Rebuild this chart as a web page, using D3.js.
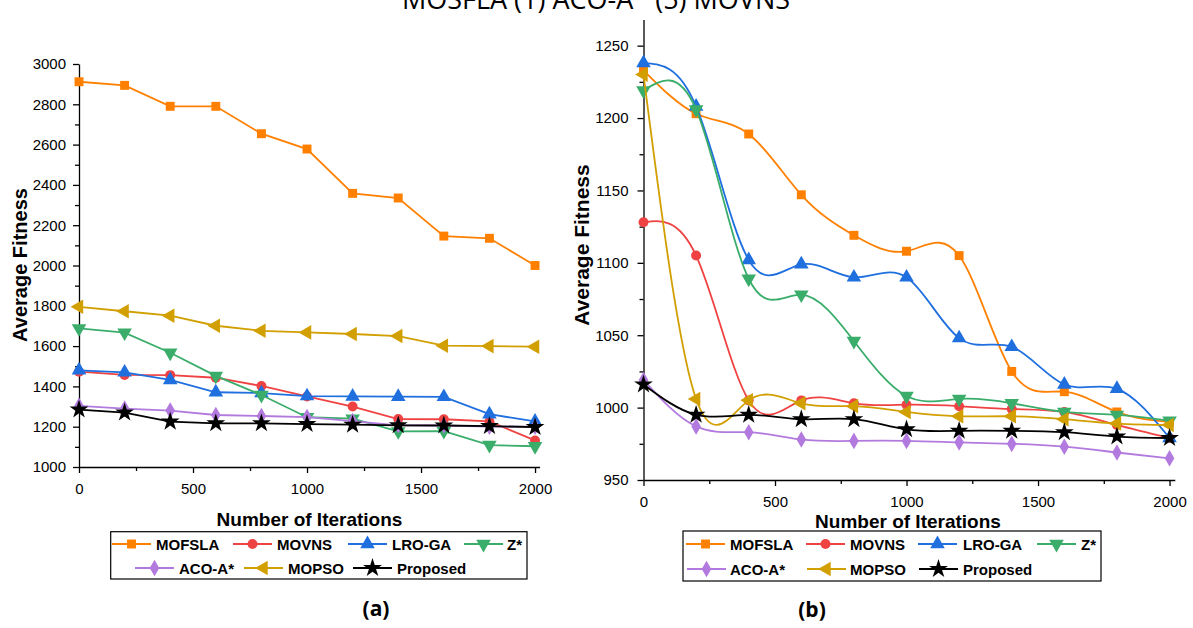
<!DOCTYPE html>
<html>
<head>
<meta charset="utf-8">
<script src="https://cdn.jsdelivr.net/npm/d3@7"></script>
<style>
  body { margin: 0; background: #fff; }
  svg { display: block; font-family: "Liberation Sans", Arial, sans-serif; }
  .axis path, .axis line { stroke: #000; stroke-width: 1.3; }
  .axis text { font-size: 15px; fill: #000; }
  .title { font-weight: bold; fill: #000; }
  .leg text { font-size: 15px; font-weight: bold; }
</style>
</head>
<body>
<div id="chart"></div>
<script>
// iterations on the x axis
const iterations = [0, 200, 400, 600, 800, 1000, 1200, 1400, 1600, 1800, 2000];

const names = ["MOFSLA", "MOVNS", "LRO-GA", "Z*", "ACO-A*", "MOPSO", "Proposed"];
const colors = ["#ff8000", "#ef4343", "#1f6fdf", "#3aad6b", "#b27ade", "#d29f00", "#000000"];

// panel (a) values
const mofslaA   = [2912, 2894, 2790, 2790, 2654, 2578, 2358, 2335, 2146, 2135, 2000];
const movnsA    = [1473, 1457, 1456, 1443, 1402, 1350, 1300, 1238, 1237, 1226, 1132];
const lrogaA    = [1480, 1470, 1432, 1371, 1367, 1352, 1350, 1349, 1348, 1262, 1226];
const zstarA    = [1688, 1667, 1567, 1452, 1357, 1247, 1240, 1177, 1178, 1109, 1103];
const acoA      = [1303, 1290, 1280, 1258, 1253, 1248, 1228, 1207, 1206, 1200, 1200];
const mopsoA    = [1795, 1773, 1751, 1701, 1676, 1668, 1660, 1650, 1602, 1600, 1597];
const proposedA = [1285, 1270, 1225, 1217, 1217, 1213, 1210, 1207, 1206, 1203, 1198];

// panel (b) values
const mofslaB   = [1233, 1203, 1189, 1147, 1119, 1108, 1105, 1025, 1011, 997, 990];
const movnsB    = [1128, 1105, 1005, 1005, 1003, 1002, 1001, 999, 997, 988, 979];
const lrogaB    = [1238, 1208, 1102, 1099, 1090, 1090, 1048, 1042, 1016, 1013, 979];
const zstarB    = [1219, 1206, 1089, 1078, 1046, 1008, 1006, 1003, 997, 995, 991];
const acoB      = [1019, 987, 983, 978, 977, 977, 976, 975, 973, 969, 965];
const mopsoB    = [1230, 1006, 1005, 1003, 1001, 997, 994, 994, 992, 989, 988];
const proposedB = [1016, 995, 995, 992, 992, 985, 984, 984, 983, 980, 979];

const yTicksA = [1000, 1200, 1400, 1600, 1800, 2000, 2200, 2400, 2600, 2800, 3000];
const yTicksB = [950, 1000, 1050, 1100, 1150, 1200, 1250];
const xTicks = [0, 500, 1000, 1500, 2000];

const W = 1193, H = 628;
const svg = d3.select("#chart").append("svg").attr("width", W).attr("height", H);

// marker shapes: square, circle, up, down, diamond, left, star
const shapes = [
  {t: d3.symbolSquare, s: 80, r: 0},
  {t: d3.symbolCircle, s: 78, r: 0},
  {t: d3.symbolTriangle, s: 92, r: 0},
  {t: d3.symbolTriangle, s: 92, r: 180},
  {t: d3.symbolDiamond, s: 80, r: 0},
  {t: d3.symbolTriangle, s: 92, r: -90},
  {t: d3.symbolStar, s: 110, r: 0}
];

const fmt = d3.format("d");

function drawPanel(p) {
  let x = d3.scaleLinear().domain([0, 2020]).range(p.xr);
  let y = d3.scaleLinear().domain(p.yd).range(p.yr);
  let g = svg.append("g");

  // minor ticks
  g.append("g").attr("class", "axis")
    .attr("transform", "translate(0," + p.yr[0] + ")")
    .call(d3.axisBottom(x).tickValues(d3.range(250, 2001, 500)).tickSize(4).tickFormat(""))
    .select(".domain").remove();
  g.append("g").attr("class", "axis")
    .attr("transform", "translate(" + p.xr[0] + ",0)")
    .call(d3.axisLeft(y).tickValues(p.minor).tickSize(4).tickFormat(""))
    .select(".domain").remove();

  g.append("g").attr("class", "axis")
    .attr("transform", "translate(0," + p.yr[0] + ")")
    .call(d3.axisBottom(x).tickValues(xTicks).tickFormat(fmt).tickSize(6).tickSizeOuter(0).tickPadding(10));
  g.append("g").attr("class", "axis")
    .attr("transform", "translate(" + p.xr[0] + ",0)")
    .call(d3.axisLeft(y).tickValues(p.yTicks).tickFormat(fmt).tickSize(6).tickSizeOuter(0).tickPadding(p.ypad));

  let line = d3.line().x((d, i) => x(iterations[i])).y(d => y(d)).curve(p.curve);

  p.series.forEach((vals, k) => {
    g.append("path")
      .attr("d", line(vals))
      .attr("fill", "none")
      .attr("stroke", colors[k])
      .attr("stroke-width", 1.8);
    g.selectAll(null)
      .data(vals)
      .enter()
      .append("path")
      .attr("d", d3.symbol().type(shapes[k].t).size(shapes[k].s))
      .attr("transform", (d, i) => `translate(${x(iterations[i])},${y(d)}) rotate(${shapes[k].r})`)
      .attr("fill", colors[k]);
  });

  // axis titles
  g.append("text").attr("class", "title")
    .attr("x", p.xt[0]).attr("y", p.xt[1])
    .attr("text-anchor", "middle")
    .style("font-size", "19px")
    .text("Number of Iterations");
  g.append("text").attr("class", "title")
    .attr("transform", `translate(${p.yt[0]},${p.yt[1]}) rotate(-90)`)
    .attr("text-anchor", "middle")
    .style("font-size", p.ytSize)
    .text("Average Fitness");

  // legend
  let leg = g.append("g").attr("class", "leg");
  leg.append("rect")
    .attr("x", p.box[0]).attr("y", p.box[1])
    .attr("width", p.box[2] - p.box[0]).attr("height", p.box[3] - p.box[1])
    .attr("fill", "#fff").attr("stroke", "#000").attr("stroke-width", 1.2);
  p.leg.forEach((it, k) => {
    let cy = it[2];
    leg.append("line")
      .attr("x1", it[0]).attr("x2", it[0] + 39)
      .attr("y1", cy).attr("y2", cy)
      .attr("stroke", colors[k]).attr("stroke-width", 1.8);
    leg.append("path")
      .attr("d", d3.symbol().type(shapes[k].t).size(shapes[k].s))
      .attr("transform", `translate(${it[0] + 19.5},${cy}) rotate(${shapes[k].r})`)
      .attr("fill", colors[k]);
    leg.append("text")
      .attr("x", it[1]).attr("y", cy + 5.5)
      .text(names[k]);
  });

  svg.append("text")
    .attr("x", p.label[0]).attr("y", p.label[1])
    .attr("text-anchor", "middle")
    .style("font-family", "'Open Sans', sans-serif")
    .style("font-weight", "bold")
    .style("font-size", "21px")
    .text(p.label[2]);
}

drawPanel({
  xr: [79, 539.6], yd: [1000, 3000], yr: [467, 64],
  yTicks: yTicksA, minor: d3.range(1100, 3000, 200), ypad: 7,
  curve: d3.curveLinear,
  series: [mofslaA, movnsA, lrogaA, zstarA, acoA, mopsoA, proposedA],
  xt: [309.5, 526], yt: [26.5, 265], ytSize: "20px",
  box: [110.7, 531.7, 527, 579],
  leg: [[112, 156, 544], [233, 277, 544], [348, 392, 544], [464, 507, 544],
        [135, 179, 568], [244, 288, 568], [353, 397, 568]],
  label: [376, 616, "(a)"]
});

drawPanel({
  xr: [643.5, 1174.8], yd: [950, 1268], yr: [480, 19.6],
  yTicks: yTicksB, minor: d3.range(975, 1250, 50), ypad: 9,
  curve: d3.curveNatural,
  series: [mofslaB, movnsB, lrogaB, zstarB, acoB, mopsoB, proposedB],
  xt: [908, 528], yt: [589, 245], ytSize: "21px",
  box: [683, 531, 1101, 581],
  leg: [[686, 730, 544], [806, 850, 544], [918, 963, 544], [1037, 1081, 544],
        [687, 730, 569], [807, 850, 569], [919, 963, 569]],
  label: [812, 617, "(b)"]
});

// caption cut off at the very top, as in the source image
svg.append("text")
  .attr("x", 596).attr("y", 9)
  .attr("text-anchor", "middle")
  .style("font-family", "'Open Sans', sans-serif")
  .style("font-size", "27px")
  .text("MOSFLA (1) ACO-A* (5) MOVNS");
</script>
</body>
</html>
